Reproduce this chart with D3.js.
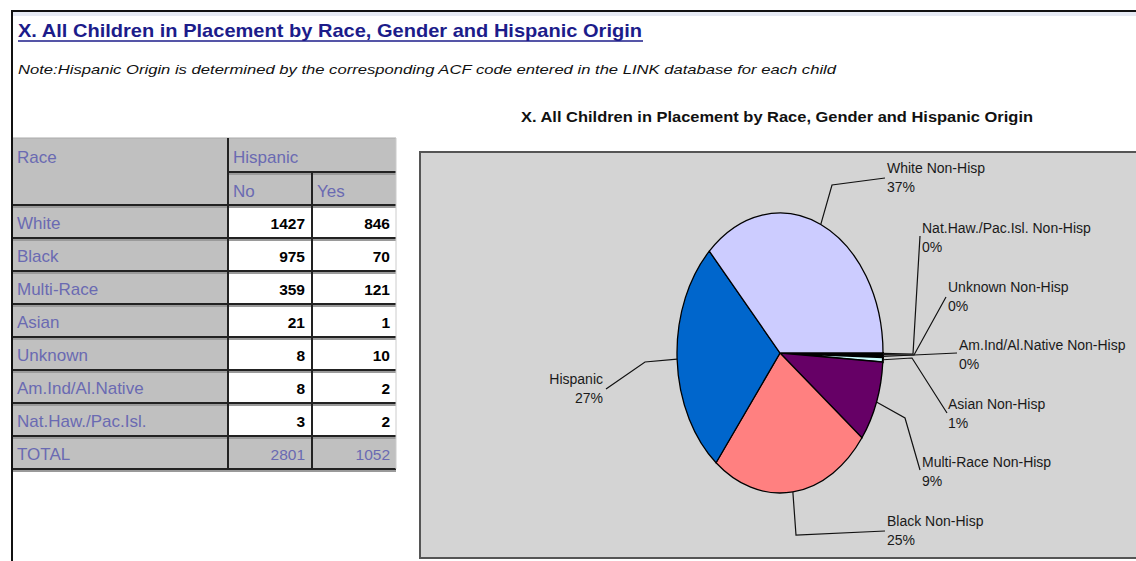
<!DOCTYPE html>
<html>
<head>
<meta charset="utf-8">
<script src="https://cdn.jsdelivr.net/npm/d3@7"></script>
<style>
  body { margin: 0; background: #fff; }
  svg { display: block; font-family: "Liberation Sans", Arial, sans-serif; }
</style>
</head>
<body>
<svg id="chart" width="1136" height="561"></svg>
<script>
'use strict';

// table data
const races = ["White", "Black", "Multi-Race", "Asian", "Unknown", "Am.Ind/Al.Native", "Nat.Haw./Pac.Isl."];
const hispNo = [1427, 975, 359, 21, 8, 8, 3];
const hispYes = [846, 70, 121, 1, 10, 2, 2];

// pie data (in drawing order, clockwise from 3 o'clock)
const sliceNames = ["Nat.Haw./Pac.Isl. Non-Hisp", "Unknown Non-Hisp", "Am.Ind/Al.Native Non-Hisp",
                    "Asian Non-Hisp", "Multi-Race Non-Hisp", "Black Non-Hisp", "Hispanic", "White Non-Hisp"];
const sliceValues = [3, 8, 8, 21, 359, 975, 1052, 1427];
const sliceColors = ["#9999ff", "#993366", "#ffffcc", "#ccffff", "#660066", "#ff8080", "#0066cc", "#ccccff"];

const pageTitle = "X. All Children in Placement by Race, Gender and Hispanic Origin";
const noteText = "Note:Hispanic Origin is determined by the corresponding ACF code entered in the LINK database for each child";

const svg = d3.select('#chart');

// page frame
svg.append('rect').attr('x', 12).attr('y', 12).attr('width', 1124).attr('height', 4).attr('fill', '#e6eaf4');
svg.append('line').attr('x1', 11).attr('x2', 1136).attr('y1', 11).attr('y2', 11)
    .attr('stroke', '#111').attr('stroke-width', 2);
svg.append('line').attr('x1', 12).attr('x2', 12).attr('y1', 10).attr('y2', 561)
    .attr('stroke', '#111').attr('stroke-width', 2);

// heading + note
svg.append('text').attr('x', 18).attr('y', 37)
    .attr('font-size', 19).attr('font-weight', 'bold').attr('fill', '#1c1c8a')
    .attr('textLength', 624).attr('lengthAdjust', 'spacingAndGlyphs')
    .text(pageTitle);
svg.append('line').attr('x1', 18).attr('x2', 643).attr('y1', 41).attr('y2', 41)
    .attr('stroke', '#1c1c8a').attr('stroke-width', 1.5);
svg.append('text').attr('x', 18).attr('y', 74)
    .attr('font-size', 13).attr('font-style', 'italic').attr('fill', '#111')
    .attr('textLength', 818).attr('lengthAdjust', 'spacingAndGlyphs')
    .text(noteText);

// ---------- table ----------
const colX = [13, 228, 312, 396];
const headTop = 138, head2 = 172, bodyTop = 205, rowH = 33;
const rows = races.map((r, i) => ({ label: r, no: hispNo[i], yes: hispYes[i] }));
rows.push({ label: 'TOTAL', no: d3.sum(hispNo), yes: d3.sum(hispYes), total: true });

const yRow = d3.scaleBand().domain(d3.range(rows.length))
    .range([bodyTop, bodyTop + rowH * rows.length]);

const table = svg.append('g');
const labelColor = '#6a6ab2';

// header cells
table.append('rect').attr('x', colX[0]).attr('y', headTop).attr('width', colX[3] - colX[0])
    .attr('height', bodyTop - headTop).attr('fill', '#c0c0c0');

// body cells
const rowG = table.selectAll('g.row').data(rows).enter().append('g').attr('class', 'row');
rowG.append('rect').attr('x', colX[0]).attr('y', (d, i) => yRow(i))
    .attr('width', colX[1] - colX[0]).attr('height', rowH).attr('fill', '#c0c0c0');
rowG.append('rect').attr('x', colX[1]).attr('y', (d, i) => yRow(i))
    .attr('width', colX[3] - colX[1]).attr('height', rowH)
    .attr('fill', d => d.total ? '#c0c0c0' : '#fff');

// shadows under row lines
const hLines = [bodyTop].concat(rows.map((d, i) => yRow(i) + rowH));
table.selectAll('rect.shadow').data(hLines).enter().append('rect')
    .attr('x', colX[0]).attr('y', d => d + 1).attr('width', colX[3] - colX[0]).attr('height', 2)
    .attr('fill', '#9a9a9a');
table.append('rect').attr('x', colX[1]).attr('y', head2 + 1).attr('width', colX[3] - colX[1])
    .attr('height', 2).attr('fill', '#9a9a9a');

// lines
table.selectAll('line.h').data(hLines).enter().append('line')
    .attr('x1', colX[0]).attr('x2', colX[3]).attr('y1', d => d).attr('y2', d => d)
    .attr('stroke', '#222').attr('stroke-width', 2);
table.append('line').attr('x1', colX[1]).attr('x2', colX[3]).attr('y1', head2).attr('y2', head2)
    .attr('stroke', '#222').attr('stroke-width', 2);
table.append('line').attr('x1', colX[0]).attr('x2', colX[3]).attr('y1', headTop).attr('y2', headTop)
    .attr('stroke', '#aaa').attr('stroke-width', 1);
table.append('line').attr('x1', colX[1]).attr('x2', colX[1]).attr('y1', headTop).attr('y2', hLines[hLines.length - 1])
    .attr('stroke', '#222').attr('stroke-width', 2);
table.append('line').attr('x1', colX[2]).attr('x2', colX[2]).attr('y1', head2).attr('y2', hLines[hLines.length - 1])
    .attr('stroke', '#222').attr('stroke-width', 2);
table.append('line').attr('x1', colX[3]).attr('x2', colX[3]).attr('y1', headTop).attr('y2', hLines[hLines.length - 1])
    .attr('stroke', '#ccc').attr('stroke-width', 1);

// header text
const headText = (x, y, t) => table.append('text').attr('x', x).attr('y', y)
    .attr('font-size', 17).attr('fill', labelColor).text(t);
headText(17, 163, 'Race');
headText(233, 163, 'Hispanic');
headText(233, 197, 'No');
headText(317, 197, 'Yes');

rowG.append('text').attr('x', 17).attr('y', (d, i) => yRow(i) + 24)
    .attr('font-size', 17).attr('fill', labelColor)
    .text(d => d.label);
rowG.append('text').attr('x', colX[2] - 7).attr('y', (d, i) => yRow(i) + 24)
    .attr('text-anchor', 'end').attr('font-size', 15.5)
    .attr('font-weight', d => d.total ? 'normal' : 'bold')
    .attr('fill', d => d.total ? labelColor : '#000')
    .text(d => d.no);
rowG.append('text').attr('x', colX[3] - 6).attr('y', (d, i) => yRow(i) + 24)
    .attr('text-anchor', 'end').attr('font-size', 15.5)
    .attr('font-weight', d => d.total ? 'normal' : 'bold')
    .attr('fill', d => d.total ? labelColor : '#000')
    .text(d => d.yes);

// ---------- pie chart ----------
svg.append('text').attr('x', 777).attr('y', 122).attr('text-anchor', 'middle')
    .attr('font-size', 14.5).attr('font-weight', 'bold').attr('fill', '#111')
    .attr('textLength', 512).attr('lengthAdjust', 'spacingAndGlyphs')
    .text(pageTitle);

svg.append('rect').attr('x', 420).attr('y', 152).attr('width', 730).attr('height', 406)
    .attr('fill', '#d4d4d4').attr('stroke', '#555').attr('stroke-width', 2);

const cx = 780, cy = 353, rx = 103, ry = 140;
const total = d3.sum(sliceValues);
const slices = sliceNames.map((n, i) => ({ name: n, value: sliceValues[i], color: sliceColors[i] }));

const pie = d3.pie().sort(null).value(d => d.value)
    .startAngle(Math.PI / 2).endAngle(Math.PI / 2 + 2 * Math.PI);
const arcs = pie(slices);
const arc = d3.arc().innerRadius(0).outerRadius(100);

const pieG = svg.append('g').attr('transform', `translate(${cx},${cy}) scale(${rx / 100},${ry / 100})`);
pieG.selectAll('path').data(arcs).enter().append('path')
    .attr('d', arc)
    .attr('fill', d => d.data.color)
    .attr('stroke', '#000').attr('stroke-width', d => d.data.value < 50 ? 2 : 1.3)
    .attr('vector-effect', 'non-scaling-stroke');

// label layout: elbow points, label anchor and first baseline
const labelLayout = {
    "White Non-Hisp":             { pts: [[832, 185], [885, 178]], x: 887, y: 173, anchor: 'start' },
    "Nat.Haw./Pac.Isl. Non-Hisp": { pts: [[913, 354], [920, 236]], x: 922, y: 233, anchor: 'start' },
    "Unknown Non-Hisp":           { pts: [[914, 355], [946, 297]], x: 948, y: 292, anchor: 'start' },
    "Am.Ind/Al.Native Non-Hisp":  { pts: [[914, 355], [957, 353]], x: 959, y: 350, anchor: 'start' },
    "Asian Non-Hisp":             { pts: [[912, 358], [947, 413]], x: 948, y: 409, anchor: 'start' },
    "Multi-Race Non-Hisp":        { pts: [[905, 418], [920, 470]], x: 922, y: 467, anchor: 'start' },
    "Black Non-Hisp":             { pts: [[796, 535], [885, 531]], x: 887, y: 526, anchor: 'start' },
    "Hispanic":                   { pts: [[645, 362], [606, 389]], x: 603, y: 384, anchor: 'end' }
};

const edgePoint = d => {
    const a = (d.startAngle + d.endAngle) / 2;
    return [cx + rx * Math.sin(a), cy - ry * Math.cos(a)];
};

const labG = svg.append('g');
labG.selectAll('path').data(arcs).enter().append('path')
    .attr('d', d => d3.line()([edgePoint(d)].concat(labelLayout[d.data.name].pts)))
    .attr('fill', 'none').attr('stroke', '#111').attr('stroke-width', 1.2);

const lab = labG.selectAll('text').data(arcs).enter().append('text')
    .attr('font-size', 14).attr('fill', '#1a1a1a')
    .attr('text-anchor', d => labelLayout[d.data.name].anchor);
lab.append('tspan').attr('x', d => labelLayout[d.data.name].x).attr('y', d => labelLayout[d.data.name].y)
    .text(d => d.data.name);
lab.append('tspan').attr('x', d => labelLayout[d.data.name].x).attr('dy', 19)
    .text(d => Math.round(d.data.value / total * 100) + '%');
</script>
</body>
</html>
